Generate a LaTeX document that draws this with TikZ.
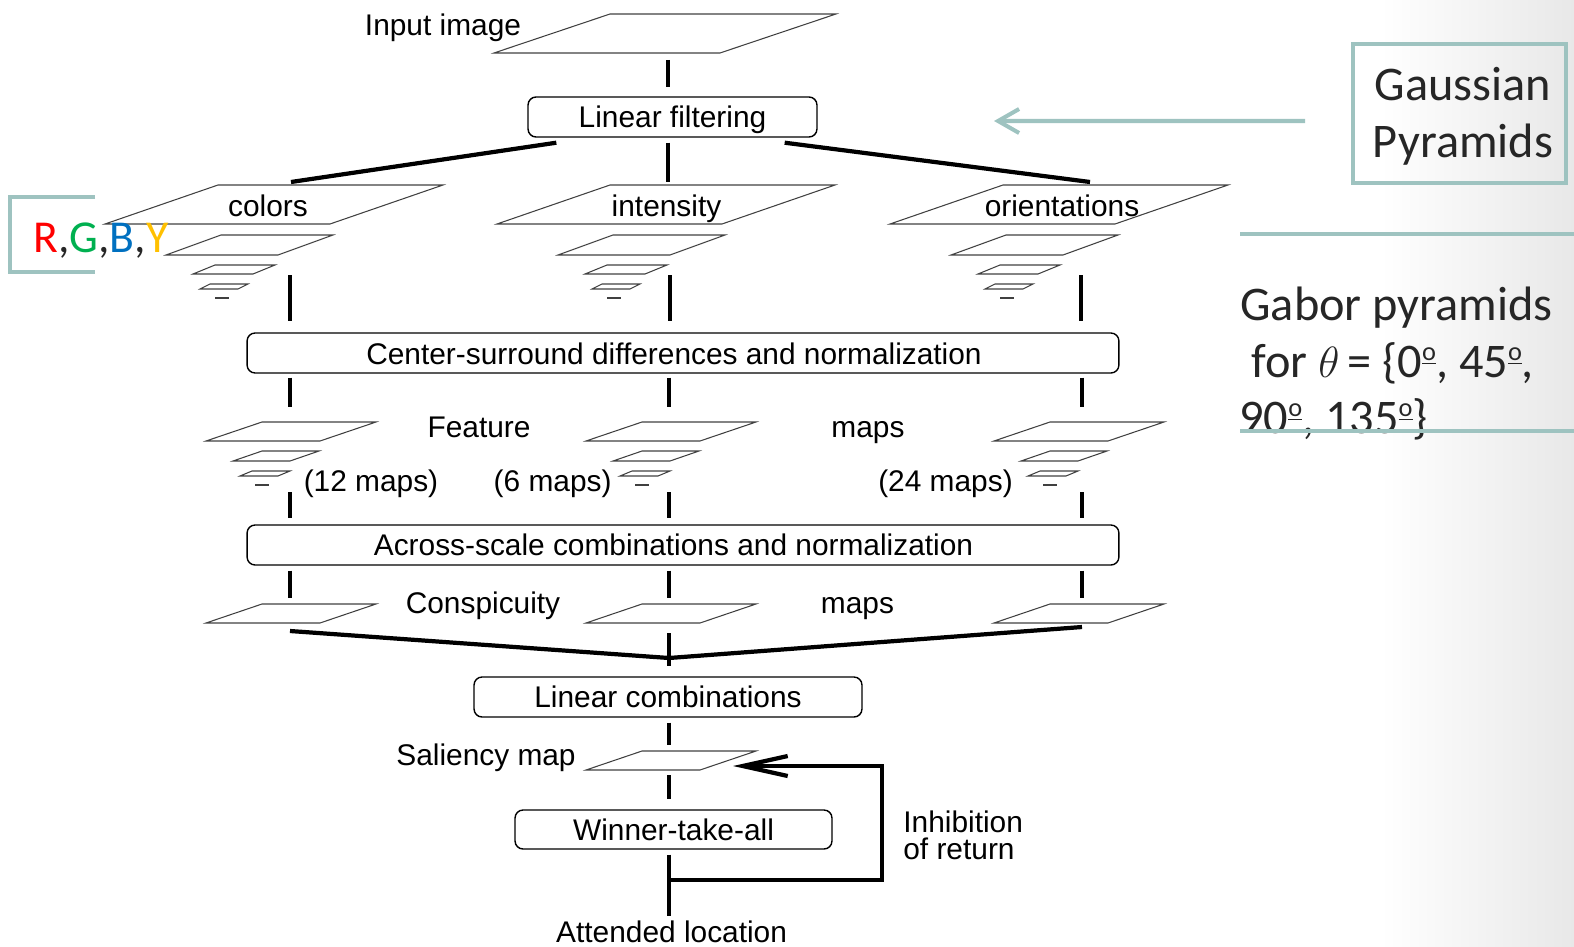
\documentclass[tikz,border=0pt]{standalone}
\usepackage{fontspec}
\setmainfont{Liberation Sans}
\newfontfamily\calibri{Carlito}
\usetikzlibrary{calc,positioning,arrows.meta}

\definecolor{tealc}{RGB}{158,195,192}
\definecolor{rgbR}{RGB}{255,0,0}
\definecolor{rgbG}{RGB}{0,176,80}
\definecolor{rgbB}{RGB}{0,112,192}
\definecolor{rgbY}{RGB}{255,192,0}

% one map: bottom-left x, bottom y, width, shear, height
\newcommand{\mapplane}[5]{\draw[mplane] (#1,#2) -- ++(#3,0) -- ++(#4,-#5) -- ++(-#3,0) -- cycle;}
\newcommand{\bigpyr}[1]{%
  \mapplane{#1}{224}{225}{113}{39}
  \mapplane{#1+61}{255}{112}{55}{20}
  \mapplane{#1+88}{274}{60}{22}{9}
  \mapplane{#1+95}{289}{38}{10}{5}
  \draw[mplane] (#1+110,298) -- (#1+124,298);}
\newcommand{\smallpyr}[2]{%
  \mapplane{#1}{#2}{114}{56}{19}
  \mapplane{#1+27}{#2+20}{57}{29}{10}
  \mapplane{#1+34}{#2+35}{38}{12}{5}
  \draw[mplane] (#1+49,#2+44) -- (#1+63,#2+44);}
\newcommand{\ordm}{\raisebox{0.34em}{\fontsize{15}{15}\selectfont\underline{o}}}

\begin{document}
\begin{tikzpicture}[x=0.02cm,y=-0.02cm,
  box/.style={draw,rounded corners=0.16cm,line width=0.8pt,minimum height=0.8cm,inner sep=0pt,
    font={\fontsize{17}{18}\selectfont},text height=13pt,text depth=1pt},
  lbl/.style={inner sep=0pt,font={\fontsize{17}{18}\selectfont},text height=13pt,text depth=1pt},
  mplane/.style={draw=black!75,line width=0.6pt},
  conn/.style={line width=2.4pt},
  fbk/.style={line width=2.4pt,-{Straight Barb[length=0.9cm,width=0.4cm]}},
  tealln/.style={draw=tealc,line width=2.3pt},
  tealarr/.style={draw=tealc,line width=2.3pt,-{Straight Barb[length=0.42cm,width=0.48cm]}},
  note/.style={inner sep=0pt,font={\calibri\fontsize{27.5}{32}\selectfont},text=black!85}]
\useasboundingbox (0,0) rectangle (1574,946);
\shade[left color=white,right color=black!9] (1380,0) rectangle (1574,946);

% maps
\mapplane{494}{53}{226}{116}{39}
\foreach \xo in {105,497,890} {\bigpyr{\xo}}
\foreach \xo in {206,586,994} {\smallpyr{\xo}{441}}
\foreach \xo in {206,586,994} {\mapplane{\xo}{623}{114}{56}{19}}
\mapplane{586}{770}{114}{56}{19}

% boxes
\node[box,minimum width=5.78cm] (lf) at (672.5,117) {Linear filtering};
\node[box,minimum width=17.44cm] (cs) at (683,353) {};
\node[lbl] (cstxt) at (674,354) {Center-surround differences and normalization};
\node[box,minimum width=17.44cm] (as) at (683,545) {};
\node[lbl] (astxt) at (673.5,544.5) {Across-scale combinations and normalization};
\node[box,minimum width=7.76cm] (lc) at (668,697) {Linear combinations};
\node[box,minimum width=6.34cm,minimum height=0.78cm] (wta) at (673.5,829.5) {Winner-take-all};

% labels
\node[lbl] (inlbl) at (443,24.7) {Input image};
\node[lbl] (col) at (268,206.4) {colors};
\node[lbl] (int) at (666.5,206.4) {intensity};
\node[lbl] (ori) at (1062,206.4) {orientations};
\node[lbl] (feat) at (479,427.4) {Feature};
\node[lbl] (featm) at (868,427.4) {maps};
\node[lbl] (n12) at (371,481) {(12 maps)};
\node[lbl] (n6) at (552.6,481) {(6 maps)};
\node[lbl] (n24) at (945.5,481) {(24 maps)};
\node[lbl] (consp) at (483,603) {Conspicuity};
\node[lbl] (conspm) at (857.5,603) {maps};
\node[lbl] (sal) at (486,755.4) {Saliency map};
\node[lbl,anchor=base west] (inh1) at (903,832) {Inhibition};
\node[lbl,anchor=base west] (inh2) at (903,859) {of return};
\node[lbl] (att) at (671.6,932.4) {Attended location};

% connectors
\coordinate (inB) at (668,60);
\coordinate (tC) at (291,182);
\coordinate (tI) at (668,182);
\coordinate (tO) at (1090,182);
\draw[conn,shorten >=0.19cm] (inB) -- (inB |- lf.north);
\draw[conn] ($(lf.south west)+(29,5)$) -- (tC);
\draw[conn,shorten <=0.1cm] (lf.south -| tI) -- (tI);
\draw[conn] ($(lf.south east)+(-33,5)$) -- (tO);

\foreach \xc/\xp in {C/290,I/670,O/1081} {
  \coordinate (p\xc) at (\xp,275);
  \draw[conn,shorten >=0.22cm] (p\xc) -- (p\xc |- cs.north);
}
\foreach \xc/\xp in {C/290,I/669,O/1082} {
  \coordinate (f\xc) at (\xp,407);
  \coordinate (g\xc) at (\xp,492);
  \coordinate (k\xc) at (\xp,598);
  \draw[conn,shorten <=0.08cm] (cs.south -| f\xc) -- (f\xc);
  \draw[conn,shorten >=0.12cm] (g\xc) -- (g\xc |- as.north);
  \draw[conn,shorten <=0.1cm] (as.south -| k\xc) -- (k\xc);
}

\coordinate (mC) at (290,631);
\coordinate (vtx) at (669,658);
\coordinate (mO) at (1082,627);
\coordinate (mI) at (669,633);
\draw[conn] (mC) -- (vtx) -- (mO);
\draw[conn,shorten >=0.2cm] (mI) -- (mI |- lc.north);

\coordinate (sT) at (669,745);
\coordinate (sB) at (669,775);
\draw[conn,shorten <=0.1cm] (lc.south -| sT) -- (sT);
\draw[conn,shorten >=0.2cm] (sB) -- (sB |- wta.north);
\draw[conn,shorten <=0.1cm,shorten >=0.08cm] (wta.south -| sB) -- (att.north -| sB);

\coordinate (fb) at (669,880);
\coordinate (lp) at (882,880);
\coordinate (salR) at (733,766);
\draw[fbk] (fb) -- (lp) |- (salR);

% notes on the right
\node[draw=tealc,line width=2.3pt,minimum width=4.26cm,minimum height=2.78cm] (gp) at (1459.5,113.5) {};
\node[note,anchor=base] (gp1) at (1463,100) {Gaussian};
\node[note,anchor=base] (gp2) at (1463,157) {Pyramids};
\coordinate (gaT) at (994,121);
\draw[tealarr] ($(gp.west)+(-46,7.5)$) -- (gaT);

\node[note,anchor=base west] (gab1) at (1240,320) {Gabor pyramids};
\node[note,anchor=base west] (gab2) at (1251,377) {for $\theta$\,= \{0\ordm, 45\ordm,};
\node[note,anchor=base west] (gab3) at (1239,433) {90\ordm, 135\ordm\}};
\draw[tealln] (1240,234) -- (1574,234);
\draw[tealln] (1240,431) -- (1574,431);

\node[note,anchor=base west,font={\calibri\fontsize{26}{30}\selectfont}] (rgby) at (33,252)
  {\textcolor{rgbR}{R},\textcolor{rgbG}{G},\textcolor{rgbB}{B},\textcolor{rgbY}{Y}};
\draw[tealln] (95,197) -- (10,197) -- (10,272) -- (95,272);
\end{tikzpicture}
\end{document}
